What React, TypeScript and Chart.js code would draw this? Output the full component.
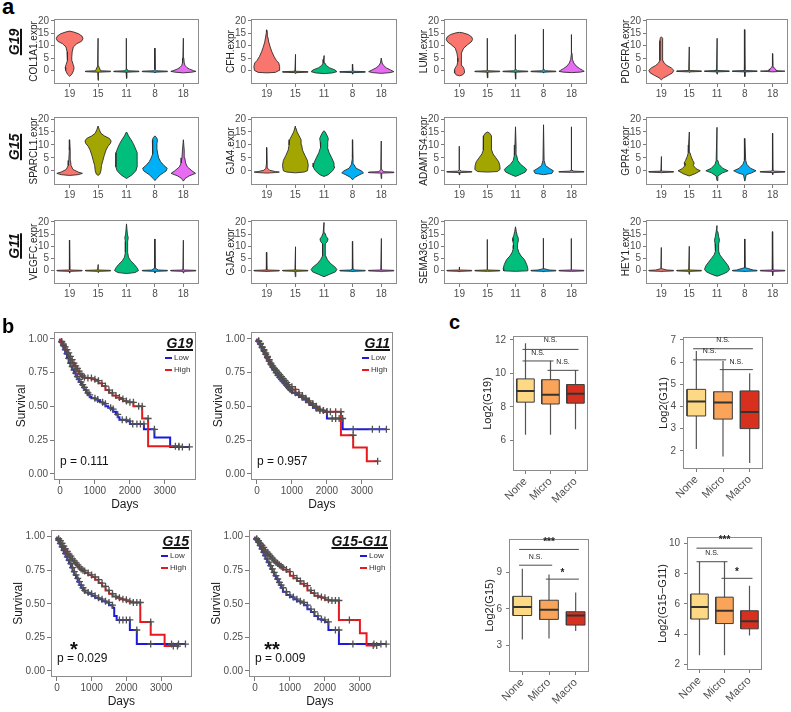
import React, { useEffect, useRef } from 'react';
import { Chart, registerables } from 'chart.js';

Chart.register(...registerables);

const FONT = '"Liberation Sans", Arial, Helvetica, sans-serif';
Chart.defaults.font.family = FONT;
Chart.defaults.color = '#4d4d4d';

// ================= Panel a : violin data =================
const CLUSTERS = ['19', '15', '11', '8', '18'];
const CLUSTER_COLORS = ['#F8766D', '#A3A500', '#00BF7D', '#00B0F6', '#E76BF3'];
const VIOLIN_Y_TICKS = [0, 5, 10, 15, 20];

// spike-shaped violin: [bottom, top, baseY, blob half width, blob height]
function S(lo: number, hi: number, base: number, bw: number, bh: number): number[][] {
  const pts = [[lo, 0], [base - 0.3, 0.015], [base - 0.12, 0.44], [base + 0.1, 0.44], [base + 0.25, bw], [base + bh, 0.015], [hi, 0]];
  return pts.filter((p, i) => i === 0 || i === pts.length - 1 || (p[0] > lo && p[0] < hi));
}

// each violin: list of [y, half-width] from bottom to top
const COL1A1 = [
  [[-2.4, 0], [-1.5, 0.08], [0, 0.14], [1.2, 0.155], [2.5, 0.12], [4, 0.08], [5.5, 0.075], [7.5, 0.09], [9.5, 0.13], [10.8, 0.25], [11.8, 0.42], [12.8, 0.47], [13.8, 0.44], [14.8, 0.32], [15.5, 0.15], [15.9, 0]],
  S(-4, 13, -0.4, 0.09, 2.2),
  S(-3.2, 13, -0.4, 0.05, 1),
  S(-1, 9, -0.4, 0.04, 0.8),
  [[-1, 0], [-0.7, 0.3], [-0.4, 0.44], [-0.1, 0.36], [0.5, 0.22], [1.2, 0.12], [2, 0.06], [3, 0.03], [5, 0.015], [13, 0]],
];
const CFH = [
  [[-1, 0], [-0.8, 0.3], [0, 0.43], [1.5, 0.45], [3, 0.42], [4, 0.34], [5.5, 0.26], [7.5, 0.18], [9.5, 0.12], [11.5, 0.07], [13.5, 0.04], [15.5, 0.02], [16.4, 0]],
  S(-1.3, 6.5, -0.6, 0.02, 0.5),
  [[-1.3, 0], [-1, 0.3], [-0.5, 0.45], [0.2, 0.38], [1, 0.2], [2, 0.08], [3, 0.03], [4.5, 0.015], [6, 0]],
  S(-1.5, 2.5, -0.6, 0.03, 0.5),
  [[-1.2, 0], [-0.9, 0.3], [-0.5, 0.44], [0.2, 0.32], [1, 0.18], [2, 0.08], [3, 0.03], [5, 0]],
];
const LUM = [
  [[-2.2, 0], [-1.8, 0.12], [-1, 0.17], [0, 0.18], [1, 0.15], [2, 0.09], [3.5, 0.06], [5, 0.06], [7, 0.09], [9, 0.15], [10.5, 0.3], [11.5, 0.42], [12.5, 0.47], [13.5, 0.44], [14.5, 0.32], [15.2, 0.12], [15.4, 0]],
  S(-3, 13, -0.4, 0.02, 0.5),
  S(-3.5, 14.5, -0.4, 0.07, 0.8),
  S(-1, 16.7, -0.4, 0.07, 0.8),
  [[-0.9, 0], [-0.7, 0.3], [-0.4, 0.45], [0, 0.4], [0.8, 0.28], [1.8, 0.16], [3, 0.08], [4.5, 0.03], [7, 0.015], [14.5, 0]],
];
const PDGFRA = [
  [[-3.8, 0], [-3, 0.08], [-2, 0.25], [-1, 0.4], [0, 0.45], [1, 0.36], [2, 0.2], [3, 0.1], [4, 0.06], [6, 0.05], [9, 0.05], [12, 0.05], [13, 0.04], [13.6, 0]],
  S(-0.8, 9.5, -0.3, 0.02, 0.4),
  S(-1.5, 13, -0.3, 0.03, 0.6),
  S(-2.5, 16.5, -0.3, 0.03, 0.6),
  [[-0.6, 0], [-0.45, 0.2], [-0.3, 0.44], [-0.15, 0.2], [0, 0.12], [0.6, 0.1], [1.2, 0.04], [2, 0.015], [6.8, 0]],
];
const SPARCL1 = [
  [[-1.8, 0], [-1.5, 0.3], [-1, 0.45], [-0.5, 0.3], [0.5, 0.12], [2, 0.05], [4, 0.03], [8, 0.02], [12, 0]],
  [[-1.8, 0], [-1.3, 0.06], [0, 0.1], [2, 0.12], [4, 0.17], [6, 0.22], [8, 0.28], [9.5, 0.35], [10.5, 0.43], [11.5, 0.46], [12.5, 0.4], [13.5, 0.22], [14.5, 0.1], [16, 0.04], [17.3, 0]],
  [[-3, 0], [-2.5, 0.07], [-1.5, 0.2], [0, 0.33], [1.5, 0.37], [4, 0.38], [7, 0.37], [9, 0.3], [10.5, 0.24], [12, 0.16], [13.5, 0.07], [14.7, 0.02], [15, 0]],
  [[-3.8, 0], [-3, 0.06], [-1.5, 0.2], [0, 0.4], [1, 0.43], [2, 0.32], [3.5, 0.2], [5, 0.13], [6.5, 0.1], [8.5, 0.07], [10.5, 0.07], [11.8, 0.09], [12.8, 0.06], [13.5, 0]],
  [[-4, 0], [-3, 0.06], [-2, 0.2], [-1, 0.43], [0, 0.3], [1.5, 0.14], [3, 0.08], [5, 0.05], [8, 0.03], [12, 0]],
];
const GJA4 = [
  [[-0.9, 0], [-0.7, 0.3], [-0.5, 0.44], [-0.3, 0.3], [0.2, 0.1], [1, 0.03], [3, 0.015], [9, 0]],
  [[-0.8, 0], [-0.5, 0.3], [0, 0.42], [2, 0.45], [4, 0.42], [6, 0.33], [8, 0.25], [10, 0.22], [12, 0.2], [13.5, 0.13], [15, 0.06], [16.5, 0.02], [17.3, 0]],
  [[-2.2, 0], [-1.5, 0.15], [0, 0.3], [1.5, 0.38], [3, 0.35], [5, 0.27], [7, 0.18], [9, 0.12], [11, 0.13], [12.5, 0.15], [13.8, 0.1], [15, 0.04], [15.5, 0]],
  [[-3.5, 0], [-2.5, 0.08], [-1.5, 0.25], [-0.8, 0.38], [0, 0.3], [1, 0.12], [2.5, 0.04], [5, 0.015], [12, 0]],
  S(-3, 11.5, -0.6, 0.08, 1.2),
];
const ADAMTS4 = [
  S(-1.5, 9.5, -0.4, 0.06, 0.8),
  [[-0.5, 0], [-0.3, 0.35], [0.5, 0.45], [2, 0.44], [3.5, 0.4], [5, 0.3], [6.5, 0.2], [8, 0.15], [10, 0.14], [12, 0.15], [13.5, 0.14], [14.5, 0.08], [15, 0]],
  [[-2.2, 0], [-1.5, 0.15], [-0.5, 0.35], [0.5, 0.4], [1.5, 0.3], [2.5, 0.18], [4, 0.08], [6, 0.04], [10, 0.02], [17, 0]],
  [[-1.5, 0], [-1, 0.3], [0, 0.35], [1, 0.2], [2, 0.07], [4, 0.02], [17.8, 0]],
  S(-0.6, 17, -0.4, 0.08, 0.6),
];
const GPR4 = [
  S(-0.8, 5.5, -0.4, 0.02, 0.4),
  [[-2, 0], [-1.2, 0.2], [0, 0.4], [0.8, 0.25], [2, 0.15], [3, 0.18], [4, 0.13], [5.5, 0.07], [7, 0.03], [10, 0.02], [15, 0]],
  [[-3.8, 0], [-2, 0.03], [-0.8, 0.2], [0, 0.4], [1, 0.2], [2.5, 0.07], [4, 0.03], [16.8, 0]],
  [[-4, 0], [-1.5, 0.05], [-0.8, 0.25], [0, 0.4], [1, 0.2], [2.5, 0.07], [4, 0.03], [12.5, 0]],
  S(-1.5, 14.5, -0.4, 0.06, 0.6),
];
const VEGFC = [
  S(-1, 12.5, 0, 0.03, 0.4),
  S(-0.8, 2.5, 0, 0.02, 0.3),
  [[-1.2, 0], [-0.8, 0.3], [0, 0.42], [1, 0.38], [2.5, 0.28], [4, 0.15], [5.5, 0.07], [7.5, 0.04], [12, 0.04], [13.5, 0.06], [15, 0.03], [19.2, 0]],
  S(-1, 13, 0, 0.12, 1),
  S(-1, 12.5, 0, 0.03, 0.4),
];
const GJA5 = [
  S(-0.5, 7.5, 0, 0.02, 0.3),
  S(-2.5, 9.8, 0, 0.02, 0.3),
  [[-2.5, 0], [-1.5, 0.2], [-0.5, 0.4], [0.5, 0.45], [1.5, 0.38], [3, 0.22], [4.5, 0.12], [6, 0.06], [8, 0.04], [11, 0.05], [12, 0.12], [13, 0.14], [14, 0.08], [15.5, 0.03], [19.8, 0]],
  S(-0.5, 12, 0, 0.08, 0.6),
  S(-0.5, 13.2, 0, 0.02, 0.3),
];
const SEMA3G = [
  S(-0.5, 1.5, 0, 0.02, 0.3),
  S(-0.3, 12.8, 0, 0.02, 0.3),
  [[-0.3, 0], [-0.1, 0.42], [0.8, 0.44], [2.5, 0.4], [4.5, 0.32], [6, 0.2], [7.5, 0.12], [9, 0.08], [10.5, 0.07], [12, 0.09], [13.3, 0.1], [14.5, 0.06], [16, 0.03], [18, 0]],
  S(-0.5, 13.3, 0, 0.2, 0.8),
  S(-0.3, 13.2, 0, 0.02, 0.3),
];
const HEY1 = [
  S(-0.5, 9.5, 0, 0.2, 0.8),
  S(-1.5, 10, 0, 0.02, 0.3),
  [[-2.3, 0], [-1.5, 0.2], [-0.5, 0.38], [0.5, 0.45], [2, 0.4], [3.5, 0.3], [5, 0.2], [6.5, 0.1], [8, 0.06], [9.5, 0.05], [11, 0.07], [12.5, 0.09], [14, 0.06], [16, 0.03], [18.5, 0]],
  S(-0.5, 13, 0, 0.3, 1.2),
  S(-2, 16, 0, 0.02, 0.3),
];

const VIOLIN_TITLES = ['COL1A1.expr', 'CFH.expr', 'LUM.expr', 'PDGFRA.expr', 'SPARCL1.expr', 'GJA4.expr', 'ADAMTS4.expr', 'GPR4.expr', 'VEGFC.expr', 'GJA5.expr', 'SEMA3G.expr', 'HEY1.expr'];
const VIOLIN_DATA = [COL1A1, CFH, LUM, PDGFRA, SPARCL1, GJA4, ADAMTS4, GPR4, VEGFC, GJA5, SEMA3G, HEY1];
const ROW_LABELS = ['G19', 'G15', 'G11'];

// ================= Panel b : survival data [day, survival, censored] =================
const G19_LOW = [[0,1,0],[50,0.975,1],[100,0.95,1],[150,0.92,1],[200,0.89,1],[250,0.855,1],[300,0.82,1],[350,0.795,1],[400,0.77,1],[450,0.745,1],[500,0.72,1],[550,0.70,1],[600,0.68,1],[650,0.66,1],[700,0.64,1],[750,0.62,1],[800,0.60,1],[850,0.585,1],[900,0.57,0],[1000,0.56,1],[1080,0.55,1],[1150,0.54,0],[1220,0.53,1],[1300,0.52,1],[1380,0.50,0],[1450,0.49,1],[1520,0.48,1],[1600,0.46,0],[1650,0.44,1],[1700,0.42,0],[1780,0.40,1],[1900,0.40,1],[2000,0.39,1],[2080,0.37,1],[2200,0.37,1],[2300,0.37,1],[2400,0.37,1],[2500,0.33,0],[2700,0.33,1],[3150,0.27,0],[3270,0.20,0],[3400,0.2,1],[3500,0.2,1],[3700,0.2,1]];
const G19_HIGH = [[0,1,0],[50,0.98,1],[100,0.96,1],[150,0.94,1],[200,0.92,1],[250,0.895,1],[300,0.87,1],[350,0.845,1],[400,0.82,1],[450,0.80,1],[500,0.78,1],[550,0.76,1],[600,0.74,1],[650,0.725,1],[700,0.715,1],[800,0.71,1],[900,0.71,1],[1000,0.70,1],[1100,0.69,1],[1200,0.67,1],[1300,0.65,1],[1400,0.62,1],[1500,0.60,1],[1600,0.58,1],[1700,0.565,1],[1800,0.555,1],[1900,0.54,1],[2000,0.53,1],[2100,0.53,1],[2130,0.50,0],[2250,0.50,1],[2350,0.50,1],[2450,0.41,0],[2520,0.41,1],[2570,0.205,0],[3200,0.205,0],[3300,0.205,1],[3400,0.205,1]];
const G11_LOW = [[0,1,0],[50,0.98,1],[100,0.96,1],[150,0.935,1],[200,0.91,1],[250,0.885,1],[300,0.86,1],[350,0.835,1],[400,0.81,1],[450,0.79,1],[500,0.77,1],[550,0.75,1],[600,0.73,1],[650,0.715,1],[700,0.70,1],[750,0.685,1],[800,0.67,1],[850,0.655,1],[900,0.64,1],[950,0.625,1],[1000,0.615,1],[1100,0.60,1],[1200,0.585,1],[1300,0.57,1],[1400,0.55,1],[1500,0.53,1],[1600,0.51,1],[1700,0.49,1],[1800,0.47,1],[1900,0.47,1],[2000,0.46,1],[2150,0.41,1],[2250,0.41,1],[2350,0.41,1],[2450,0.41,1],[2520,0.33,0],[2750,0.33,1],[3000,0.33,0],[3300,0.33,1],[3500,0.33,1],[3700,0.33,1]];
const G11_HIGH = [[0,1,0],[50,0.985,1],[100,0.965,1],[150,0.94,1],[200,0.92,1],[250,0.895,1],[300,0.87,1],[350,0.845,1],[400,0.82,1],[450,0.80,1],[500,0.78,1],[550,0.765,1],[600,0.75,1],[650,0.735,1],[700,0.72,1],[750,0.705,1],[800,0.69,1],[850,0.675,1],[900,0.66,1],[1000,0.645,1],[1100,0.625,1],[1200,0.60,1],[1300,0.58,1],[1400,0.56,1],[1500,0.54,1],[1600,0.52,1],[1700,0.50,1],[1800,0.48,1],[1900,0.47,1],[2000,0.46,1],[2100,0.46,1],[2250,0.46,1],[2400,0.46,1],[2520,0.286,0],[2750,0.286,1],[3140,0.195,0],[3290,0.094,0],[3450,0.094,1]];
const G15_LOW = [[0,1,0],[50,0.975,1],[100,0.95,1],[150,0.925,1],[200,0.90,1],[250,0.875,1],[300,0.85,1],[350,0.825,1],[400,0.80,1],[450,0.77,1],[500,0.74,1],[550,0.715,1],[600,0.69,1],[650,0.665,1],[700,0.64,1],[750,0.62,1],[800,0.60,1],[900,0.585,1],[1000,0.575,1],[1100,0.56,1],[1200,0.545,1],[1300,0.535,1],[1400,0.52,1],[1500,0.51,1],[1600,0.49,1],[1650,0.47,0],[1720,0.41,0],[1800,0.38,1],[1900,0.38,1],[2000,0.38,1],[2100,0.38,1],[2160,0.305,0],[2300,0.305,1],[2490,0.2,0],[2700,0.2,1],[3000,0.2,0],[3300,0.2,1],[3500,0.2,1],[3700,0.2,1]];
const G15_HIGH = [[0,1,0],[50,0.985,1],[100,0.97,1],[150,0.95,1],[200,0.93,1],[250,0.91,1],[300,0.89,1],[350,0.87,1],[400,0.855,1],[450,0.835,1],[500,0.82,1],[550,0.805,1],[600,0.79,1],[650,0.775,1],[700,0.76,1],[750,0.75,1],[800,0.745,1],[900,0.73,1],[1000,0.715,1],[1100,0.70,1],[1200,0.68,1],[1300,0.655,1],[1400,0.63,1],[1500,0.60,1],[1600,0.575,1],[1700,0.555,1],[1800,0.545,1],[1900,0.535,1],[2000,0.53,1],[2100,0.52,1],[2200,0.51,1],[2300,0.51,1],[2400,0.51,1],[2490,0.365,0],[2700,0.365,1],[3100,0.27,0],[3240,0.185,0],[3350,0.185,1],[3470,0.185,1]];
const G1511_LOW = [[0,1,0],[50,0.98,1],[100,0.96,1],[150,0.935,1],[200,0.91,1],[250,0.885,1],[300,0.86,1],[350,0.835,1],[400,0.81,1],[450,0.785,1],[500,0.76,1],[550,0.735,1],[600,0.71,1],[650,0.685,1],[700,0.66,1],[750,0.64,1],[800,0.62,1],[900,0.59,1],[1000,0.565,1],[1100,0.55,1],[1200,0.535,1],[1300,0.52,1],[1400,0.51,1],[1500,0.49,1],[1600,0.46,1],[1700,0.44,1],[1800,0.41,1],[1900,0.385,1],[2000,0.38,1],[2100,0.365,1],[2190,0.305,0],[2300,0.305,1],[2400,0.305,1],[2505,0.2,0],[2800,0.2,1],[3100,0.2,0],[3400,0.2,1],[3600,0.2,1],[3750,0.2,1]];
const G1511_HIGH = [[0,1,0],[50,0.985,1],[100,0.97,1],[150,0.95,1],[200,0.935,1],[250,0.92,1],[300,0.90,1],[350,0.885,1],[400,0.87,1],[450,0.855,1],[500,0.84,1],[550,0.825,1],[600,0.81,1],[650,0.80,1],[700,0.79,1],[750,0.78,1],[800,0.77,1],[900,0.755,1],[1000,0.74,1],[1100,0.71,1],[1200,0.69,1],[1300,0.67,1],[1400,0.65,1],[1500,0.635,1],[1600,0.60,1],[1700,0.58,1],[1800,0.56,1],[1900,0.55,1],[2000,0.545,1],[2100,0.53,1],[2200,0.525,1],[2300,0.525,1],[2400,0.525,1],[2520,0.38,0],[2700,0.38,1],[3000,0.38,0],[3190,0.28,0],[3280,0.19,0],[3380,0.19,1],[3480,0.19,1]];

const SURV_TITLES = ['G19', 'G11', 'G15', 'G15-G11'];
const SURV_P = ['p = 0.111', 'p = 0.957', 'p = 0.029', 'p = 0.009'];
const SURV_STARS = ['', '', '*', '**'];
const SURV_LOW = [G19_LOW, G11_LOW, G15_LOW, G1511_LOW];
const SURV_HIGH = [G19_HIGH, G11_HIGH, G15_HIGH, G1511_HIGH];
const SURV_X_TICKS = [0, 1000, 2000, 3000];
const SURV_Y_TICKS = [0, 0.25, 0.5, 0.75, 1];
const LEGEND_LABELS = ['Low', 'High'];

// ================= Panel c : box plot data [low, q1, median, q3, high] =================
const GROUPS = ['None', 'Micro', 'Macro'];
const GROUP_COLORS = ['#fdd985', '#f9a458', '#d7301f'];
const BOX_G19 = [[6.33, 8.28, 8.94, 9.67, 11.8], [6.33, 8.17, 8.72, 9.62, 10.75], [6.67, 8.22, 8.78, 9.33, 10.2]];
const BOX_G11 = [[2.08, 3.57, 4.22, 4.77, 6.5], [1.74, 3.43, 4.18, 4.66, 6.05], [1.45, 3.0, 3.75, 4.7, 5.5]];
const BOX_G15 = [[3.47, 5.45, 6.16, 7.03, 9.3], [3.55, 5.13, 5.92, 6.71, 8.84], [4.18, 4.66, 5.45, 5.76, 7.34]];
const BOX_G1511 = [[2.6, 5.0, 5.8, 6.66, 8.8], [2.6, 4.7, 5.55, 6.45, 8.8], [3.9, 4.35, 4.85, 5.55, 7.2]];
// significance brackets: [from group, to group, y, label]
const SIG_G19: [number, number, number, string][] = [[0, 2, 11.43, 'N.S.'], [0, 1, 10.74, 'N.S.'], [1, 2, 10.18, 'N.S.']];
const SIG_G11: [number, number, number, string][] = [[0, 2, 6.6, 'N.S.'], [0, 1, 6.1, 'N.S.'], [1, 2, 5.66, 'N.S.']];
const SIG_G15: [number, number, number, string][] = [[0, 2, 10.9, '***'], [0, 1, 9.6, 'N.S.'], [1, 2, 8.45, '*']];
const SIG_G1511: [number, number, number, string][] = [[0, 2, 9.7, '***'], [0, 1, 8.8, 'N.S.'], [1, 2, 7.7, '*']];
const TICKS_G19 = [6, 8, 10, 12];
const TICKS_G11 = [2, 3, 4, 5, 6, 7];
const TICKS_G15 = [3, 6, 9];
const TICKS_G1511 = [2, 4, 6, 8, 10];

// ================= layout (page pixels) =================
const VIOLIN_COLS = [{ x: 54, w: 145 }, { x: 251, w: 146 }, { x: 444, w: 143 }, { x: 646, w: 142 }];
const VIOLIN_ROWS = [{ y: 15, h: 69 }, { y: 113, h: 72 }, { y: 216, h: 68 }];
const ROW_LABEL_Y = [42, 147, 246];
const SURV_BOXES = [{ x: 54, y: 328, w: 143, h: 152 }, { x: 251, y: 328, w: 143, h: 152 }, { x: 51, y: 526, w: 142, h: 151 }, { x: 249, y: 526, w: 143, h: 151 }];
const BOX_BOXES = [
  { x: 513, y: 330, w: 75, h: 141, yw: 32, min: 4.17, max: 12.23 },
  { x: 683, y: 331, w: 80, h: 138, yw: 26, min: 1.18, max: 7.13 },
  { x: 509, y: 533, w: 80, h: 139, yw: 26, min: 0.79, max: 11.76 },
  { x: 687, y: 531, w: 75, h: 139, yw: 31, min: 1.62, max: 10.44 },
];
const BLUE = '#1c1cd8';
const RED = '#e8191c';
const BOX_HALF = 0.35;

// ================= helpers =================
const framePlugin = {
  id: 'frame',
  afterDatasetsDraw(chart: any) {
    const { ctx, chartArea: a } = chart;
    ctx.save();
    ctx.strokeStyle = '#8c8c8c';
    ctx.lineWidth = 1;
    ctx.strokeRect(Math.round(a.left) + 0.5, Math.round(a.top) + 0.5, Math.round(a.right - a.left) - 1, Math.round(a.bottom - a.top) - 1);
    ctx.restore();
  },
};

const GRID = { drawOnChartArea: false, drawTicks: true, tickLength: 3, color: '#7a7a7a', lineWidth: 1 };

function baseOptions(scales: any, padding: any) {
  return {
    animation: false,
    responsive: false,
    maintainAspectRatio: false,
    events: [],
    layout: { padding: { left: 0, bottom: 0, ...padding } },
    plugins: { legend: { display: false }, tooltip: { enabled: false }, filler: { propagate: false } },
    scales,
  };
}

function fixedTicks(values: number[]) {
  return (axis: any) => {
    axis.ticks = values.map((v) => ({ value: v }));
  };
}

function violinPoints(prof: number[][], cx: number) {
  const right = prof.map(([y, w]) => ({ x: cx + w, y }));
  const left = prof.slice().reverse().map(([y, w]) => ({ x: cx - w, y }));
  return [...right, ...left, right[0]];
}

function violinConfig(title: string, profiles: number[][][]) {
  return {
    type: 'line',
    data: {
      datasets: profiles.map((p, i) => ({
        data: violinPoints(p, i + 1),
        fill: 'shape',
        backgroundColor: CLUSTER_COLORS[i],
        borderColor: '#2e2e2e',
        borderWidth: 0.9,
        pointRadius: 0,
        tension: 0,
      })),
    },
    options: baseOptions(
      {
        x: {
          type: 'linear', min: 0.45, max: 5.55,
          afterBuildTicks: fixedTicks(CLUSTERS.map((_, i) => i + 1)),
          ticks: { callback: (v: any) => CLUSTERS[Math.round(Number(v)) - 1], font: { size: 10 }, padding: 1, maxRotation: 0, autoSkip: false, color: '#4d4d4d' },
          grid: GRID, border: { display: false },
          afterFit: (s: any) => { s.height = 16; },
        },
        y: {
          min: -5.5, max: 20.8,
          afterBuildTicks: fixedTicks(VIOLIN_Y_TICKS),
          ticks: { font: { size: 10 }, padding: 2, color: '#4d4d4d' },
          grid: GRID, border: { display: false },
          title: { display: true, text: title, font: { size: 10 }, padding: 0, color: '#222' },
          afterFit: (s: any) => { s.width = 26; },
        },
      },
      { top: 4, right: 4 }
    ),
    plugins: [framePlugin],
  };
}

function survConfig(low: number[][], high: number[][]) {
  const line = (d: number[][], color: string, order: number) => ({
    data: d.map((p) => ({ x: p[0], y: p[1] })), borderColor: color, borderWidth: 2, pointRadius: 0, stepped: 'after', fill: false, order,
  });
  const cens = (d: number[][]) => ({
    data: d.filter((p) => p[2]).map((p) => ({ x: p[0], y: p[1] })), showLine: false, pointStyle: 'cross', pointRadius: 3.5,
    pointBorderColor: '#505050', pointBorderWidth: 1.3, pointBackgroundColor: '#505050', order: 0,
  });
  return {
    type: 'line',
    data: { datasets: [cens(high), cens(low), line(high, RED, 1), line(low, BLUE, 2)] },
    options: baseOptions(
      {
        x: {
          type: 'linear', min: -170, max: 3880,
          afterBuildTicks: fixedTicks(SURV_X_TICKS),
          ticks: { font: { size: 10 }, padding: 1, maxRotation: 0, color: '#4d4d4d', callback: (v: any) => String(v) },
          grid: { ...GRID, tickLength: 4 }, border: { display: false },
          title: { display: true, text: 'Days', font: { size: 12 }, padding: 0, color: '#1a1a1a' },
          afterFit: (s: any) => { s.height = 32; },
        },
        y: {
          min: -0.045, max: 1.05,
          afterBuildTicks: fixedTicks(SURV_Y_TICKS),
          ticks: { font: { size: 10 }, padding: 2, color: '#4d4d4d', callback: (v: any) => Number(v).toFixed(2) },
          grid: { ...GRID, tickLength: 4 }, border: { display: false },
          title: { display: true, text: 'Survival', font: { size: 12 }, padding: { top: 4, bottom: 0 }, color: '#1a1a1a' },
          afterFit: (s: any) => { s.width = 44; },
        },
      },
      { top: 4, right: 4 }
    ),
    plugins: [framePlugin],
  };
}

function boxConfig(stats: number[][], sig: [number, number, number, string][], min: number, max: number, ticks: number[], title: string, yw: number) {
  const whisk: any[] = [];
  const meds: any[] = [];
  stats.forEach((s, i) => {
    whisk.push({ x: i, y: s[0] }, { x: i, y: s[4] }, { x: i, y: null });
    meds.push({ x: i - BOX_HALF, y: s[2] }, { x: i + BOX_HALF, y: s[2] }, { x: i, y: null });
  });
  const br: any[] = [];
  sig.forEach(([a, b, y]) => {
    br.push({ x: a - 0.12, y }, { x: b + 0.12, y }, { x: b, y: null });
  });
  const boxes = stats.map((s, i) => ({
    data: [
      { x: i - BOX_HALF, y: s[1] }, { x: i + BOX_HALF, y: s[1] }, { x: i + BOX_HALF, y: s[3] },
      { x: i - BOX_HALF, y: s[3] }, { x: i - BOX_HALF, y: s[1] },
    ],
    fill: 'shape', backgroundColor: GROUP_COLORS[i], borderColor: '#3d3d3d', borderWidth: 1, pointRadius: 0, order: 2,
  }));
  return {
    type: 'line',
    data: {
      datasets: [
        { data: whisk, borderColor: '#555', borderWidth: 1.2, pointRadius: 0, spanGaps: false, fill: false, order: 3 },
        ...boxes,
        { data: meds, borderColor: '#333', borderWidth: 2, pointRadius: 0, spanGaps: false, fill: false, order: 1 },
        { data: br, borderColor: '#4a4a4a', borderWidth: 1, pointRadius: 0, spanGaps: false, fill: false, order: 0 },
      ],
    },
    options: baseOptions(
      {
        x: {
          type: 'linear', min: -0.5, max: 2.5,
          afterBuildTicks: fixedTicks([0, 1, 2]),
          ticks: { callback: (v: any) => GROUPS[Math.round(Number(v))], font: { size: 11 }, maxRotation: 45, minRotation: 45, padding: 1, color: '#4d4d4d', autoSkip: false },
          grid: GRID, border: { display: false },
          afterFit: (s: any) => { s.height = 40; },
        },
        y: {
          min, max,
          afterBuildTicks: fixedTicks(ticks),
          ticks: { font: { size: 10 }, padding: 4, color: '#4d4d4d' },
          grid: GRID, border: { display: false },
          title: { display: true, text: title, font: { size: 11 }, padding: 0, color: '#222' },
          afterFit: (s: any) => { s.width = yw; },
        },
      },
      { top: 4, right: 4 }
    ),
    plugins: [framePlugin],
  };
}

function ChartCanvas({ x, y, w, h, make }: any) {
  const ref = useRef<HTMLCanvasElement | null>(null);
  useEffect(() => {
    const chart = new Chart(ref.current as any, make());
    return () => chart.destroy();
  }, []);
  return <canvas ref={ref} width={w} height={h} style={{ position: 'absolute', left: x, top: y, width: w, height: h }} />;
}

function T({ x, y, s, size = 12, bold = false, italic = false, underline = false, rot = 0, anchor = 'c', color = '#1a1a1a' }: any) {
  const tx = anchor === 'l' ? '0' : anchor === 'r' ? '-100%' : '-50%';
  return (
    <div
      style={{
        position: 'absolute', left: x, top: y,
        transform: `translate(${tx},-50%)` + (rot ? ` rotate(${rot}deg)` : ''),
        fontSize: size, fontWeight: bold ? 700 : 400, fontStyle: italic ? 'italic' : 'normal',
        textDecoration: underline ? 'underline' : 'none', textDecorationThickness: underline ? '1.5px' : undefined,
        lineHeight: 1, whiteSpace: 'nowrap', color, fontFamily: FONT,
      }}
    >
      {s}
    </div>
  );
}

export default function App() {
  const items: any[] = [];
  // ---- panel a
  VIOLIN_DATA.forEach((prof, k) => {
    const c = VIOLIN_COLS[k % 4];
    const r = VIOLIN_ROWS[Math.floor(k / 4)];
    items.push(
      <ChartCanvas key={'v' + k} x={c.x - 26} y={r.y - 4} w={26 + c.w + 4} h={4 + r.h + 16} make={() => violinConfig(VIOLIN_TITLES[k], prof)} />
    );
  });
  // ---- panel b
  SURV_BOXES.forEach((b, k) => {
    items.push(
      <ChartCanvas key={'s' + k} x={b.x - 44} y={b.y - 4} w={44 + b.w + 4} h={4 + b.h + 32} make={() => survConfig(SURV_LOW[k], SURV_HIGH[k])} />
    );
  });
  // ---- panel c
  const boxStats = [BOX_G19, BOX_G11, BOX_G15, BOX_G1511];
  const boxSig = [SIG_G19, SIG_G11, SIG_G15, SIG_G1511];
  const boxTicks = [TICKS_G19, TICKS_G11, TICKS_G15, TICKS_G1511];
  const boxTitles = ['Log2(G19)', 'Log2(G11)', 'Log2(G15)', 'Log2(G15\u2212G11)'];
  BOX_BOXES.forEach((b, k) => {
    items.push(
      <ChartCanvas key={'b' + k} x={b.x - b.yw} y={b.y - 4} w={b.yw + b.w + 4} h={4 + b.h + 40}
        make={() => boxConfig(boxStats[k], boxSig[k], b.min, b.max, boxTicks[k], boxTitles[k], b.yw)} />
    );
  });

  const texts: any[] = [];
  texts.push(<T key="la" x={2} y={7} s="a" size={22} bold anchor="l" color="#000" />);
  texts.push(<T key="lb" x={2} y={326} s="b" size={20} bold anchor="l" color="#000" />);
  texts.push(<T key="lc" x={449} y={321.5} s="c" size={20} bold anchor="l" color="#000" />);
  ROW_LABELS.forEach((s, i) => {
    texts.push(<T key={'rl' + i} x={14} y={ROW_LABEL_Y[i]} s={s} size={14} bold italic underline rot={-90} color="#111" />);
  });
  SURV_BOXES.forEach((b, k) => {
    const right = b.x + b.w;
    const bottom = b.y + b.h;
    texts.push(<T key={'st' + k} x={right - 4} y={b.y + 15} s={SURV_TITLES[k]} size={14} bold italic underline anchor="r" color="#111" />);
    LEGEND_LABELS.forEach((lab, j) => {
      const yy = b.y + 30 + j * 12;
      texts.push(<div key={'sl' + k + j} style={{ position: 'absolute', left: right - 32, top: yy - 1, width: 7, height: 2, background: j === 0 ? BLUE : RED }} />);
      texts.push(<T key={'slt' + k + j} x={right - 23} y={yy} s={lab} size={8} anchor="l" color="#333" />);
    });
    texts.push(<T key={'sp' + k} x={b.x + 6} y={bottom - 19} s={SURV_P[k]} size={12} anchor="l" color="#111" />);
    if (SURV_STARS[k]) texts.push(<T key={'ss' + k} x={b.x + 23} y={bottom - 28.5} s={SURV_STARS[k]} size={20} bold color="#111" />);
  });
  BOX_BOXES.forEach((b, k) => {
    const py = (v: number) => b.y + ((b.max - v) / (b.max - b.min)) * b.h;
    const px = (i: number) => b.x + ((i + 0.5) / 3) * b.w;
    boxSig[k].forEach(([a, c, y, lab], j) => {
      const star = lab.indexOf('*') >= 0;
      texts.push(
        <T key={'bs' + k + j} x={(px(a) + px(c)) / 2} y={star ? py(y) - 2.2 : py(y) - 4.5} s={lab} size={star ? 10 : 7} bold={star} color="#222" />
      );
    });
  });

  return (
    <div style={{ position: 'absolute', left: 0, top: 0, width: 791, height: 712, background: '#fff', overflow: 'hidden', fontFamily: FONT }}>
      {items}
      {texts}
    </div>
  );
}
